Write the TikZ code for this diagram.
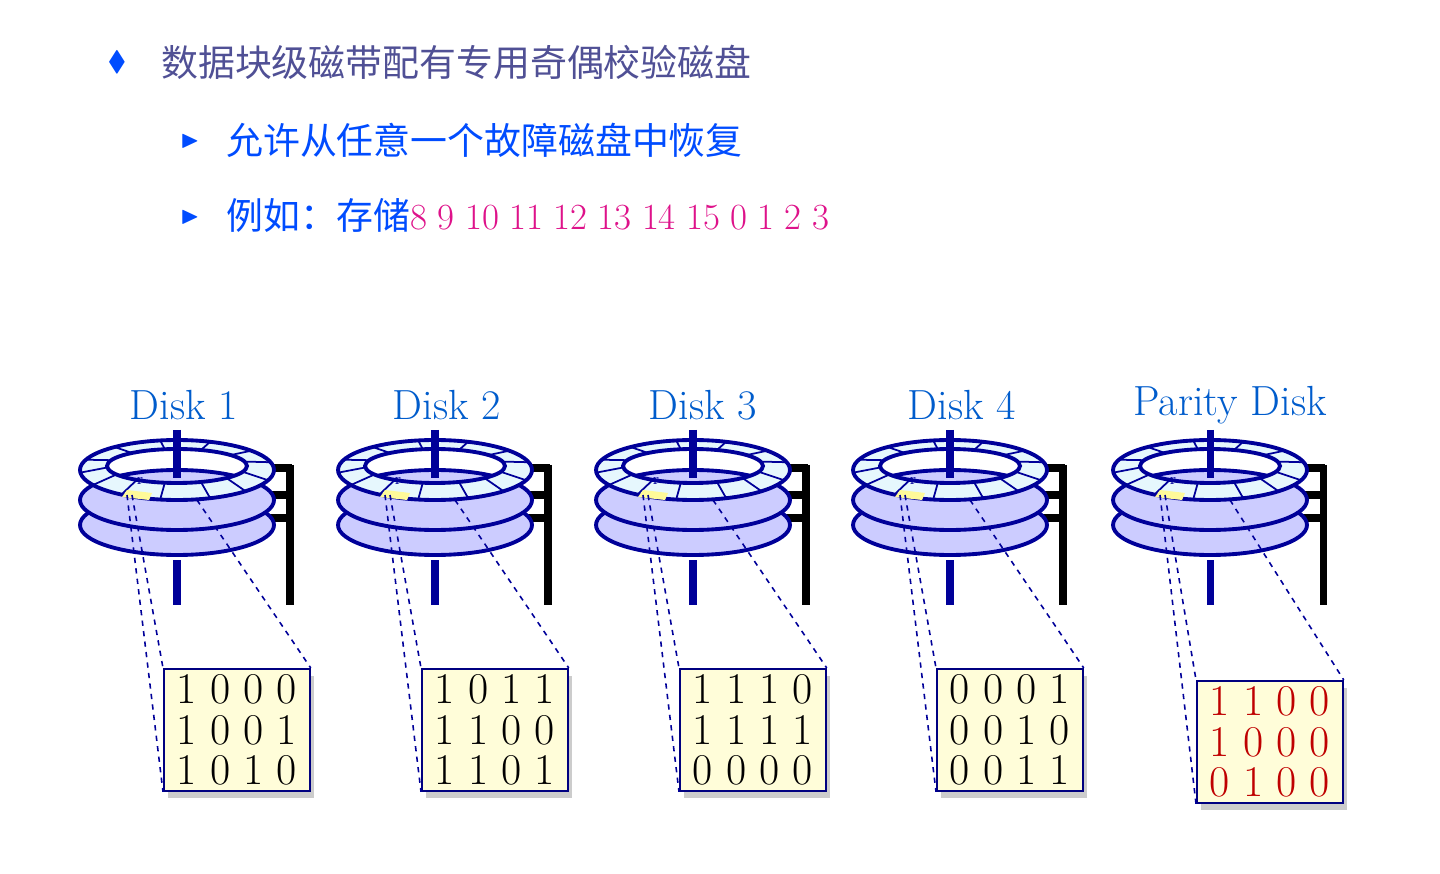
\documentclass[tikz,border=0pt]{standalone}
\usepackage{amssymb}
\usepackage{fontspec}
\newfontfamily\cjk{Noto Sans CJK SC}
\begin{document}
\begin{tikzpicture}[x=0.02cm,y=-0.02cm,
 dk/.style={draw=blue!60!black,line width=2.2pt},
 lab/.style={text=blue!55!cyan!80!black,font=\fontsize{24}{28}\selectfont},
 bx/.style={draw=blue!50!black,fill=yellow!15,line width=1pt,inner sep=0pt,anchor=north west},
 dashln/.style={draw=blue!60!black,dashed,line width=0.9pt},
 cn/.style={font=\cjk\fontsize{21}{24}\selectfont,anchor=west}]
\useasboundingbox (0,0) rectangle (1440,874);
\node[text=blue!70!cyan,font=\fontsize{16}{16}\selectfont] (b0) at (117,62) {$\blacklozenge$};
\node[cn,text=blue!30!gray!90!black] (t1) at (155,62) {数据块级磁带配有专用奇偶校验磁盘};
\node[text=blue!70!cyan,font=\fontsize{14}{14}\selectfont] (b1) at (190,141) {$\blacktriangleright$};
\node[cn,text=blue!70!cyan] (t2) at (220,140) {允许从任意一个故障磁盘中恢复};
\node[text=blue!70!cyan,font=\fontsize{14}{14}\selectfont] (b2) at (190,217) {$\blacktriangleright$};
\node[cn,text=blue!70!cyan] (t3) at (220,215) {例如：存储\textcolor{magenta!85!violet}{\fontfamily{lmr}\rmfamily 8，9，10，11，12，13，14，15，0，1，2，3}};
\newcommand\mydisk[5]{%
 \begin{scope}[shift={(#1,0)}]
  \node[lab] (L#3) at (#4,405) {#2};
  \draw[line width=4pt,blue!60!black] (0,560)--(0,605);
  \draw[line width=4pt] (113,465)--(113,605);
  \foreach \y in {468,495,518}{\draw[line width=4pt] (73,\y)--(115,\y);}
  \draw[dk,fill=blue!20!white] (0,525) ellipse (97 and 30);
  \draw[dk,fill=blue!20!white] (0,500) ellipse (97 and 30);
  \draw[dk,fill=cyan!10!white,even odd rule] (0,470) ellipse (97 and 30) (0,466) ellipse (70 and 17);
  \foreach \a in {20,45,70,100,125,150,175,200,230,260,290,320,345}{
   \draw[blue!60!black,line width=1pt] ({70*cos(\a)},{466+17*sin(\a)})--({97*cos(\a)},{470+30*sin(\a)});}
  \fill[yellow!40] (-50,490) -- (-25,493) -- (-28,500) -- (-55,497) -- cycle;
  \draw[line width=4pt,blue!60!black] (0,430)--(0,478);
  \node[font=\small,blue!60!black] (r#3) at (-37,481) {r};
  \fill[gray!40] (-9,#5+8) rectangle ++(146,122);
  \node[bx,minimum width=146*0.02cm,minimum height=122*0.02cm] (B#3) at (-14,#5) {};
  \coordinate (s#3) at (-45,495);
  \coordinate (s2#3) at (20,500);
 \end{scope}}
\mydisk{177}{Disk 1}{a}{7}{668}
\mydisk{435}{Disk 2}{b}{12}{668}
\mydisk{693}{Disk 3}{c}{10}{668}
\mydisk{950}{Disk 4}{d}{12}{668}
\mydisk{1210}{Parity Disk}{e}{20}{680}
\foreach \n/\t/\c in {a/{1 0 0 0\\1 0 0 1\\1 0 1 0}/black,b/{1 0 1 1\\1 1 0 0\\1 1 0 1}/black,c/{1 1 1 0\\1 1 1 1\\0 0 0 0}/black,d/{0 0 0 1\\0 0 1 0\\0 0 1 1}/black,e/{1 1 0 0\\1 0 0 0\\0 1 0 0}/red!75!black}{
 \node[font=\fontsize{25}{23}\selectfont,text=\c,align=center] (T\n) at (B\n.center) {\t};
 \draw[dashln] (s\n)--(B\n.north west);
 \draw[dashln] ([xshift=-0.1cm]s\n)--(B\n.south west);
 \draw[dashln] (s2\n)--(B\n.north east);}
\end{tikzpicture}
\end{document}
